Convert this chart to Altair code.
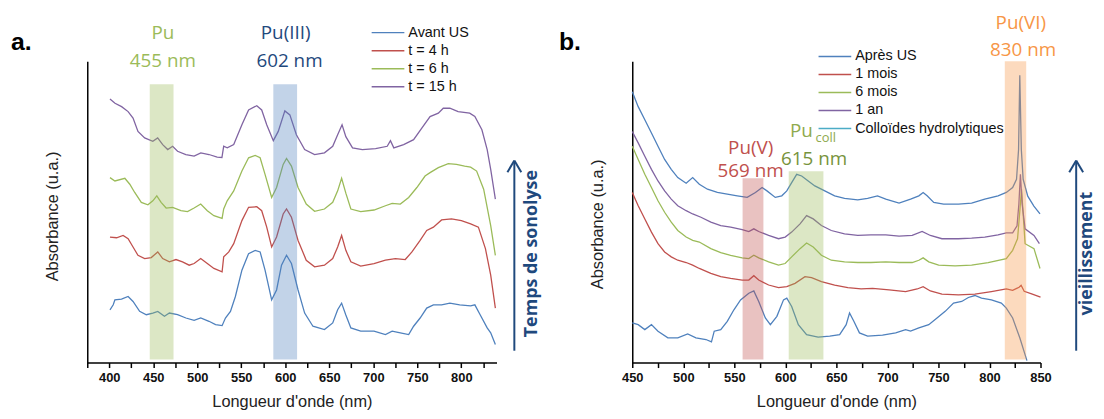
import altair as alt
import pandas as pd

# ---------------- panel a : sonolysis ----------------
A_NAMES = ["Avant US", "t = 4 h", "t = 6 h", "t = 15 h"]
A_COLORS = ["#4F81BD", "#C0504D", "#9BBB59", "#8064A2"]

A_AVANT_NM = [400.8, 404.5, 406.4, 413.9, 421.4, 427, 434.5, 442.1, 449.5, 455.1,
              462.7, 468.3, 477.6, 487.1, 496.4, 503.9, 513.3, 520.8, 528.2, 532,
              537.7, 543.3, 550.7, 558.3, 565.8, 571.4, 577, 584.5, 590.1, 595.7,
              601.4, 607, 614.5, 622, 631.4, 644.5, 653.9, 659.5, 664, 668.8,
              674.5, 685.7, 700.8, 713.8, 721.4, 730.7, 740.2, 745.8, 753.2, 760.7,
              768.3, 777.6, 787, 798.2, 810.6, 815.4, 821.4, 829.4, 833.4, 838.7]
A_AVANT_ABS = [53.3, 58.3, 63.3, 64, 66.7, 61.7, 51.7, 48.3, 50, 51.7,
               46.7, 50, 48.3, 45, 42.7, 45, 41.7, 38.3, 37.3, 45,
               51.7, 66.7, 93.3, 110, 113.3, 111.7, 93.3, 63.3, 73.3, 98.3,
               108.3, 100, 73.3, 50, 36.7, 33.3, 40, 53.3, 60, 48,
               35, 31.7, 31.7, 28.3, 31.7, 30, 28.3, 36.7, 45, 55,
               58.3, 58.3, 60, 58.3, 57.3, 58.3, 48.3, 35, 30, 18.3]

A_T4_NM = [400.8, 408.3, 415.7, 421.4, 427, 432.6, 440.2, 447.7, 455.1, 460.7,
           468.3, 475.8, 483.2, 490.8, 496.4, 503.9, 511.4, 518.9, 528.2, 530,
           535.8, 541.4, 550.7, 558.3, 567.6, 573.2, 578.9, 584.5, 590.1, 597.6,
           601.4, 607, 614.5, 623.8, 633.3, 644.5, 653.9, 659.5, 664, 668.8,
           674.5, 685.7, 700.8, 713.8, 725.1, 736.3, 743.9, 753.2, 760.7, 768.3,
           777.6, 788.9, 800.1, 810.6, 819.4, 827.4, 833.4, 838.7]
A_T4_ABS = [126.7, 126, 128.3, 125, 116.7, 108.3, 105, 106, 111.7, 105,
            101.7, 104, 101.7, 98.3, 100, 105, 100, 95, 91.7, 106.7,
            111.7, 120, 143.3, 156.7, 157.3, 153.3, 136.7, 116.7, 126.7, 150,
            155, 146.7, 123.3, 103.3, 96.7, 98.3, 105, 116.7, 128.3, 113.3,
            101.7, 97.3, 100, 103.3, 105, 104, 111.7, 123.3, 133.3, 136.7,
            144, 145, 143.3, 140, 136.7, 115, 88.3, 55]

A_T6_NM = [400.8, 406.4, 417.7, 423.3, 428.9, 436.4, 443.9, 449.5, 454, 458.9,
           464.6, 472, 481.4, 488.9, 496.4, 503.9, 511.4, 518.9, 528.2, 530,
           534, 541.4, 550.7, 558.3, 565.8, 571.4, 577, 584.5, 590.1, 597.6,
           601.4, 607, 614.5, 623.8, 633.3, 644.5, 653.9, 659.5, 664, 668.8,
           674.5, 685.7, 700.8, 713.8, 721.4, 730.7, 740.2, 749.5, 758.8, 764.5,
           773.9, 785.2, 794.5, 803.8, 810.6, 817.4, 825.4, 833.4, 838.7]
A_T6_ABS = [186.7, 183.3, 186, 180, 171.7, 161.7, 159.3, 163.3, 168.3, 161.7,
            156, 156.7, 153.3, 152.3, 156, 160, 153.3, 148.3, 145.5, 155,
            163.3, 173.3, 193.3, 206.7, 209, 206.7, 190, 166.7, 176.7, 200,
            206, 198.3, 176.7, 160, 152.7, 155, 161.7, 173.3, 186, 171,
            155, 152.3, 154, 158.3, 160.7, 160, 166.7, 176.7, 188.3, 191.7,
            196.7, 200.7, 200, 198.3, 197.3, 193.3, 175, 138.3, 108.3]

A_T15_NM = [400.8, 406.5, 414, 421.4, 427, 432.6, 440.2, 449.5, 455, 460.7,
            466.4, 472, 477.6, 487, 496.4, 504, 513.3, 522.6, 528, 530,
            534, 541.4, 550.7, 558.3, 567.6, 573.2, 578.9, 586.4, 592, 599.5,
            605.2, 612.6, 622, 633.3, 644.5, 653.9, 659.5, 664.5, 668.8, 676.4,
            687.6, 702.6, 715.8, 719.5, 723.3, 734.5, 745.8, 755.1, 764.5, 773.9,
            779.5, 787, 796.4, 809.5, 815.4, 823.4, 829.4, 833.4, 838.7]
A_T15_ABS = [266, 261.7, 258.3, 253.3, 246.7, 233.3, 226.7, 223.3, 226.7, 220,
             215, 218.3, 213.3, 210, 208.3, 211.7, 210, 207.3, 207, 218.3,
             216.7, 220, 240, 255, 259.3, 255, 240, 224, 233.3, 254,
             250, 230, 215, 210, 211.7, 218.3, 230, 240, 228, 216.7,
             215, 216, 218.3, 224, 216.7, 220, 225, 236.7, 248.3, 251.7,
             256.7, 256.7, 253.3, 251.7, 248.3, 235, 215, 195, 165]

A_BAND_LO = [446, 586.4]
A_BAND_HI = [473, 613.4]
A_BAND_TOP = [281, 281]
A_BAND_COL = ["#9BBB59", "#4F81BD"]

A_LABELS = ["Pu", "455 nm", "Pu(III)", "602 nm"]
A_LABEL_NM = [460.9, 460.9, 600.4, 604.8]
A_LABEL_COL = ["#9BBB59", "#9BBB59", "#1F497D", "#1F497D"]

# ---------------- panel b : ageing ----------------
B_NAMES = ["Après US", "1 mois", "6 mois", "1 an", "Colloïdes hydrolytiques"]
B_COLORS = ["#4F81BD", "#C0504D", "#9BBB59", "#8064A2", "#4BACC6"]

B_APRES_NM = [450, 455.8, 462.3, 468.8, 475.2, 484.9, 494.6, 504.3, 512.4, 522.2,
              527.6, 530.3, 536.7, 543.1, 549.6, 556.1, 564.2, 569.1, 573.9, 580.4,
              585.3, 591.7, 598.2, 601.4, 606.2, 612.7, 620.8, 632.1, 643.5, 653.2,
              659.6, 662.9, 667.1, 672.6, 680.6, 695.2, 708.1, 717.8, 722.7, 730.8,
              740.5, 748.6, 756.6, 764.8, 772.8, 779.3, 785.7, 792.2, 801.9, 811.6,
              816.5, 822.7, 829.7, 836.7]
B_APRES_ABS = [40, 38.3, 33.3, 38.3, 31.7, 25, 25, 29, 25, 23.3,
               21, 31.7, 33.3, 41.7, 53.3, 63.3, 70, 72.3, 61.7, 45,
               38.3, 46.7, 63.3, 65, 56.7, 38.3, 28.3, 25.7, 26.7, 28.3,
               38.3, 50, 41.7, 30, 26.7, 27.7, 30, 33.3, 31.7, 35,
               38.3, 45, 51.7, 60, 61.7, 65.7, 67.7, 65, 63.3, 60,
               55, 45, 25, 2]

B_M1_NM = [450, 455.8, 462.3, 468.8, 475.2, 481.7, 488.2, 494.6, 502.8, 509.2,
           515.7, 527, 536.7, 546.4, 557.7, 564.2, 569.1, 573.9, 583.6, 593.3,
           601.4, 609.5, 619.2, 625.7, 635.3, 648.3, 661.2, 674.2, 685.5, 701.7,
           717.8, 729.2, 735, 742.1, 753.4, 769.6, 785.7, 801.9, 816.5, 822.7,
           829, 831, 834, 842, 850]
B_M1_ABS = [171.7, 158.3, 145, 131.7, 120, 111.7, 106.7, 103.3, 101, 98.3,
            95, 90, 86.7, 85, 83.3, 83.3, 87.7, 83.3, 78.3, 75.7,
            76.7, 80, 86.7, 85.7, 81.7, 78.3, 75.7, 74.3, 75, 73.3,
            71.7, 74.3, 76.7, 72.3, 69, 68.3, 69, 71.7, 74.3, 73,
            76, 78, 72, 69, 66]

B_M6_NM = [450, 455.8, 462.3, 468.8, 475.2, 481.7, 488.2, 494.6, 502.8, 509.2,
           515.7, 527, 536.7, 546.4, 557.7, 564.2, 569.1, 573.9, 583.6, 593.3,
           599.8, 606.2, 614.4, 620.8, 627.3, 635.3, 645, 658, 670.9, 683.8,
           698.4, 711.4, 724.3, 730.8, 735, 740.5, 750.2, 766.3, 782.5, 798.7,
           816.5, 822.7, 827.5, 829.5, 831.4, 833, 834.9, 843.6, 849.5]
B_M6_ABS = [218.3, 205, 190, 176.7, 163.3, 151.7, 141.7, 133.3, 126.7, 123.3,
            121.7, 115, 111, 108.3, 105.7, 105, 108.3, 105.7, 101.7, 98.3,
            100, 106.7, 115, 120.7, 116.7, 108.3, 103.3, 101.7, 101, 101,
            101.7, 101, 101, 103.3, 105.7, 101.7, 98.3, 97.7, 98.3, 101,
            105, 113.3, 125, 150, 175, 150, 120, 115, 95]

B_AN_NM = [450, 455.8, 462.3, 468.8, 475.2, 481.7, 488.2, 494.6, 502.8, 509.2,
           517.3, 527, 536.7, 546.4, 557.7, 564.2, 569.1, 573.9, 583.6, 593.3,
           599.8, 606.2, 614.4, 620.8, 627.3, 635.3, 645, 658, 670.9, 683.8,
           698.4, 711.4, 724.3, 734, 742.1, 753.4, 769.6, 782.5, 795.4, 808.4,
           816.5, 822.7, 827, 828.8, 830.3, 832, 834.9, 843.6, 848.9]
B_AN_ABS = [233.3, 221.7, 208.3, 195, 183.3, 173.3, 165, 158.3, 153.3, 150,
            146.7, 141.7, 138.3, 136.7, 134.3, 132.3, 135, 132.3, 128.3, 125,
            126.7, 131.7, 140, 148.3, 145, 138.3, 133.3, 130, 128.3, 129,
            129, 127.7, 128.3, 132.3, 128.3, 125, 125, 125.7, 126.7, 129,
            131, 131, 138, 160, 190, 160, 135, 128.3, 120]

B_COLL_NM = [450, 455.8, 462.3, 468.8, 475.2, 481.7, 488.2, 494.6, 502.8, 509.2,
             515.7, 523.7, 533.4, 543.1, 552.9, 562.6, 570.7, 577.2, 582, 590.1,
             596.5, 601.4, 606.2, 611.1, 616, 622.4, 628.9, 638.6, 648.3, 658,
             670.9, 680.6, 690.3, 698.4, 711.4, 722.7, 730.8, 735, 738.9, 745.4,
             755.1, 769.6, 782.5, 795.4, 808.4, 816.5, 822.7, 826.5, 828.5, 829.7,
             831.2, 833, 837.5, 843.5, 849.5]
B_COLL_ABS = [273.3, 258.3, 245, 231.7, 218.3, 205, 195, 186.7, 181, 186.7,
              180, 175, 171.7, 170, 168.3, 166.7, 171.7, 176.7, 173.3, 166.7,
              168.3, 173.3, 181.7, 190, 188.3, 183.3, 178.3, 173.3, 168.3, 165.7,
              164.3, 165.7, 168.3, 165, 161, 165, 168.3, 171.7, 168.3, 161.7,
              160, 160, 161, 165, 168.3, 171.7, 176.7, 185, 215, 290,
              215, 185, 168, 158, 150]

B_BAND_LO = [558.1, 603.3, 815]
B_BAND_HI = [578.5, 637.3, 836]
B_BAND_TOP = [186, 193, 304]
B_BAND_COL = ["#C0504D", "#9BBB59", "#F79646"]

B_LABELS = ["Pu(VI)", "830 nm", "Pu(V)", "569 nm", "615 nm"]
B_LABEL_NM = [830.7, 833, 566, 566, 628.2]
B_LABEL_COL = ["#F79646", "#F79646", "#C0504D", "#C0504D", "#77933C"]
B_COLL_LABELS = ["Pu", "coll"]
B_COLL_LABEL_NM = [604.6, 629.5]

# ---------------- layout constants ----------------
H = 304
YMAX = 304
ARROW_COL = "#1F497D"


def frame(names, series):
    rows = []
    for name, (xs, ys) in zip(names, series):
        assert len(xs) == len(ys), name
        for x, y in zip(xs, ys):
            rows.append({"serie": name, "nm": x, "abs": y})
    return pd.DataFrame(rows)


def one():
    return pd.DataFrame({"k": [0]})


def panel(spec_df, names, colors, xdom, ticks, width, bands, ann_df, ann_left_df,
          leg_y0, leg_x, letter, letter_x, arrow_x, arrow_text, arrow_text_x, title_y):
    xs = alt.Scale(domain=xdom, nice=False, zero=False)
    ys = alt.Scale(domain=[0, YMAX], nice=False, zero=False)
    xa = alt.Axis(values=ticks, labelExpr="datum.value % 50 === 0 ? datum.label : ''",
                  title="Longueur d'onde (nm)", grid=False, labelFlush=False,
                  labelOverlap=False, tickSize=5, labelPadding=4, titlePadding=9)
    ya = alt.Axis(labels=False, ticks=False, grid=False, title="Absorbance (u.a.)",
                  titlePadding=27, titleY=title_y)

    lines = alt.Chart(spec_df).mark_line(strokeWidth=1.3).encode(
        x=alt.X("nm:Q", scale=xs, axis=xa),
        y=alt.Y("abs:Q", scale=ys, axis=ya),
        color=alt.Color("serie:N", scale=alt.Scale(domain=names, range=colors), legend=None),
        detail="serie:N",
    )
    band_df = pd.DataFrame({"lo": bands[0], "hi": bands[1], "top": bands[2],
                            "col": bands[3], "bot": [3] * len(bands[0])})
    rects = alt.Chart(band_df).mark_rect(opacity=0.35).encode(
        x=alt.X("lo:Q", scale=xs, axis=xa), x2="hi:Q",
        y=alt.Y("bot:Q", scale=ys, axis=ya), y2="top:Q",
        fill=alt.Fill("col:N", scale=None),
    )
    ann = alt.Chart(ann_df).mark_text(font="Open Sans", align="center", baseline="middle").encode(
        x=alt.X("nm:Q", scale=xs, axis=xa),
        y=alt.Y("py:Q", scale=None, axis=None),
        text="txt:N",
        fill=alt.Fill("col:N", scale=None),
        size=alt.Size("fs:Q", scale=None),
    )
    layers = [lines, rects, ann]
    if ann_left_df is not None:
        layers.append(alt.Chart(ann_left_df).mark_text(font="Open Sans", align="left", baseline="middle").encode(
            x=alt.X("nm:Q", scale=xs, axis=xa),
            y=alt.Y("py:Q", scale=None, axis=None),
            text="txt:N",
            fill=alt.Fill("col:N", scale=None),
            size=alt.Size("fs:Q", scale=None),
        ))
    leg_df = pd.DataFrame({"name": names, "col": colors,
                           "py": [leg_y0 + 18.2 * i for i in range(len(names))]})
    layers.append(alt.Chart(leg_df).mark_rule(strokeWidth=1.5).encode(
        x=alt.value(leg_x), x2=alt.value(leg_x + 33),
        y=alt.Y("py:Q", scale=None, axis=None),
        stroke=alt.Stroke("col:N", scale=None),
    ))
    layers.append(alt.Chart(leg_df).mark_text(align="left", baseline="middle", font="Liberation Sans",
                                              fontSize=14.5, color="#111").encode(
        x=alt.value(leg_x + 37),
        y=alt.Y("py:Q", scale=None, axis=None),
        text="name:N",
    ))
    layers.append(alt.Chart(one()).mark_text(align="left", baseline="middle", font="Liberation Sans",
                                             fontSize=25, fontWeight="bold", color="#000").encode(
        x=alt.value(letter_x), y=alt.value(-19), text=alt.value(letter)))
    layers.append(alt.Chart(one()).mark_rule(color=ARROW_COL, strokeWidth=2).encode(
        x=alt.value(arrow_x), y=alt.value(101), y2=alt.value(292)))
    for dx in (-7, 7):
        layers.append(alt.Chart(one()).mark_rule(color=ARROW_COL, strokeWidth=2).encode(
            x=alt.value(arrow_x), x2=alt.value(arrow_x + dx), y=alt.value(100), y2=alt.value(112)))
    layers.append(alt.Chart(one()).mark_text(angle=270, font="Open Sans", fontWeight="bold", fontSize=18,
                                             color=ARROW_COL, align="center", baseline="middle").encode(
        x=alt.value(arrow_text_x), y=alt.value(194), text=alt.value(arrow_text)))
    return alt.layer(*layers).properties(width=width, height=H)


spec_a = frame(A_NAMES, [(A_AVANT_NM, A_AVANT_ABS), (A_T4_NM, A_T4_ABS),
                         (A_T6_NM, A_T6_ABS), (A_T15_NM, A_T15_ABS)])
spec_b = frame(B_NAMES, [(B_APRES_NM, B_APRES_ABS), (B_M1_NM, B_M1_ABS), (B_M6_NM, B_M6_ABS),
                         (B_AN_NM, B_AN_ABS), (B_COLL_NM, B_COLL_ABS)])

ann_a = pd.DataFrame({"txt": A_LABELS, "nm": A_LABEL_NM, "col": A_LABEL_COL,
                      "py": [-29, 0, -29, 0], "fs": [19, 19, 19, 19]})
ann_b = pd.DataFrame({"txt": B_LABELS, "nm": B_LABEL_NM, "col": B_LABEL_COL,
                      "py": [-39, -11, 87, 111, 99], "fs": [19, 19, 19, 19, 19]})
ann_b_left = pd.DataFrame({"txt": B_COLL_LABELS, "nm": B_COLL_LABEL_NM,
                           "col": ["#8FAA4E", "#8FAA4E"], "py": [70, 77], "fs": [19, 13]})

pa = panel(spec_a, A_NAMES, A_COLORS, [375, 840], list(range(375, 841, 25)), 413,
           (A_BAND_LO, A_BAND_HI, A_BAND_TOP, A_BAND_COL), ann_a, None,
           -29, 287, "a.", -77, 431, "Temps de sonolyse", 449, 156)
pb = panel(spec_b, B_NAMES, B_COLORS, [450, 850], list(range(450, 851, 25)), 412,
           (B_BAND_LO, B_BAND_HI, B_BAND_TOP, B_BAND_COL), ann_b, ann_b_left,
           -5, 188, "b.", -74, 448, "vieillissement", 459, 164)

chart = alt.hconcat(pa, pb, spacing=137, bounds="flush").properties(
    padding={"left": 3, "top": 4, "right": 0, "bottom": 0}
).configure_view(stroke=None).configure_axis(
    domainColor="#000", domainWidth=1.5, tickColor="#000", tickWidth=1.5,
    labelFont="Liberation Sans", labelFontSize=13, labelFontWeight="bold", labelColor="#111",
    titleFont="Liberation Sans", titleFontSize=16.5, titleFontWeight="normal", titleColor="#222",
)

chart.save("out.html", embed_options={"renderer": "svg", "actions": False})
